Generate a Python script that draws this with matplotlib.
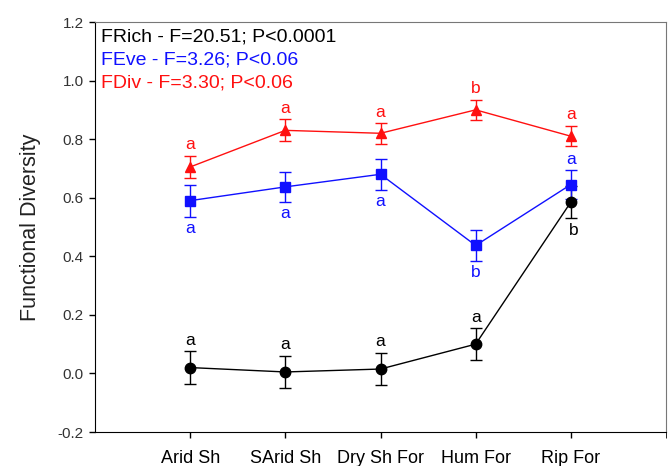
import matplotlib.pyplot as plt
import numpy as np

plt.rcParams['font.family'] = ['Liberation Sans', 'DejaVu Sans']

# habitat categories along x
habitats = ["Arid Sh", "SArid Sh", "Dry Sh For", "Hum For", "Rip For"]

# functional richness (black)
frich = [0.02, 0.005, 0.015, 0.10, 0.585]
frich_err = [0.055, 0.055, 0.055, 0.055, 0.055]
frich_lab = ["a", "a", "a", "a", "b"]

# functional evenness (blue)
feve = [0.59, 0.637, 0.68, 0.437, 0.645]
feve_err = [0.055, 0.052, 0.052, 0.052, 0.05]
feve_lab = ["a", "a", "a", "b", "a"]

# functional divergence (red)
fdiv = [0.705, 0.83, 0.82, 0.90, 0.81]
fdiv_err = [0.038, 0.038, 0.035, 0.035, 0.035]
fdiv_lab = ["a", "a", "a", "b", "a"]

x = np.arange(1, len(habitats) + 1)

fig = plt.figure(figsize=(6.72, 4.66), dpi=100)
ax = fig.add_axes([95 / 672, 1 - 432 / 466, (666 - 95) / 672, (432 - 22) / 466])

blue = '#1010ff'
red = '#ff1010'

ax.errorbar(x, frich, yerr=frich_err, color='black', marker='o', ms=7.5, lw=1,
            capsize=4.5, elinewidth=1)
ax.errorbar(x, feve, yerr=feve_err, color=blue, marker='s', ms=6.5, lw=1,
            capsize=4.5, elinewidth=1)
ax.errorbar(x, fdiv, yerr=fdiv_err, color=red, marker='^', ms=7.5, lw=1,
            capsize=4.5, elinewidth=1)

# significance letters
fs = 12.5
for i in range(len(x)):
    if frich_lab[i] == "b":
        ax.text(x[i] + 0.03, frich[i] - frich_err[i] - 0.015, frich_lab[i], color='black',
                ha='center', va='top', fontsize=fs)
    else:
        ax.text(x[i], frich[i] + frich_err[i] + 0.012, frich_lab[i], color='black',
                ha='center', va='bottom', fontsize=fs)
    if i == 4:
        ax.text(x[i], feve[i] + feve_err[i] + 0.01, feve_lab[i], color=blue,
                ha='center', va='bottom', fontsize=fs)
    else:
        ax.text(x[i], feve[i] - feve_err[i] - 0.015, feve_lab[i], color=blue,
                ha='center', va='top', fontsize=fs)
    ax.text(x[i], fdiv[i] + fdiv_err[i] + 0.012, fdiv_lab[i], color=red,
            ha='center', va='bottom', fontsize=fs)

ax.text(0.01, 0.985, "FRich - F=20.51; P<0.0001", transform=ax.transAxes,
        color='black', fontsize=14, va='top')
ax.text(0.01, 0.928, "FEve - F=3.26; P<0.06", transform=ax.transAxes,
        color=blue, fontsize=14, va='top')
ax.text(0.01, 0.871, "FDiv - F=3.30; P<0.06", transform=ax.transAxes,
        color=red, fontsize=14, va='top')

ax.set_xlim(0, 6)
ax.set_ylim(-0.2, 1.2)
ax.set_xticks(x)
ax.set_xticks([6], minor=True)
ax.set_xticklabels(habitats, fontsize=13)
yt = np.arange(-0.2, 1.21, 0.2)
ax.set_yticks(yt)
ax.set_yticklabels(["%.1f" % v for v in yt], fontsize=11, color='#333333')
ax.tick_params(direction='out', length=4, width=1, pad=4)
ax.tick_params(axis='x', which='both', length=4, pad=9)
ax.set_ylabel("Functional Diversity", fontsize=15.5, labelpad=12, color='#222222')

for s in ['top', 'right']:
    ax.spines[s].set_color('#777777')

plt.savefig("out.png", dpi=100)
